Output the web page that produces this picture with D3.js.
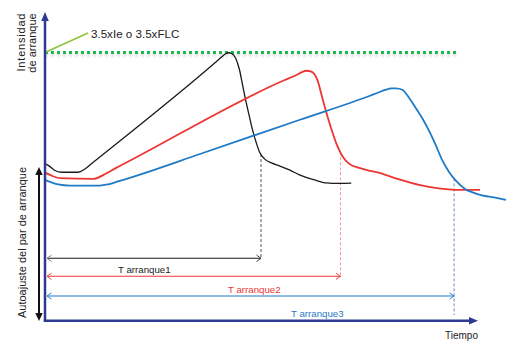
<!DOCTYPE html>
<html><head><meta charset="utf-8">
<script src="https://cdn.jsdelivr.net/npm/d3@7"></script>
<style>
html,body{margin:0;padding:0;background:#fff;}
svg{display:block;font-family:"Liberation Sans",Arial,sans-serif;}
</style>
</head><body>
<svg id="chart" width="512" height="341"></svg>
<script>
// ---- data (time in % of axis, current in multiples of Ie) ----
const seriesNames = ["T arranque1", "T arranque2", "T arranque3"];
const thresholdLevel = 3.5;
const thresholdLabel = "3.5xIe o 3.5xFLC";
const yAxisLabel1 = ["Intensidad", "de arranque"];
const yAxisLabel2 = "Autoajuste del par de arranque";
const xAxisLabel = "Tiempo";
const startTimes = [50.0, 68.4, 94.7];

const blackTime = [0, 0.92, 2.08, 3.86, 7.69, 9.24, 10.88, 39.35, 40.88, 41.8, 42.49, 43.19, 44.11, 45.03, 45.73, 46.54, 47.34, 48.04, 48.85, 49.65, 50.81, 52.42, 54.27, 56.58, 58.89, 62.36, 65.13, 68.13, 70.9];
const blackCurrent = [2.047, 2.021, 1.968, 1.938, 1.938, 1.981, 2.055, 3.366, 3.441, 3.483, 3.497, 3.487, 3.428, 3.272, 3.076, 2.855, 2.659, 2.490, 2.333, 2.203, 2.112, 2.060, 2.021, 1.968, 1.903, 1.838, 1.799, 1.792, 1.795];

const redTime = [0, 1.15, 3.46, 11.15, 14.25, 16.56, 18.52, 55.5, 57.97, 59.35, 60.51, 61.66, 63.05, 64.2, 65.36, 66.51, 67.67, 68.82, 70.44, 72.75, 74.36, 77.37, 81.99, 86.61, 91.22, 94.69, 100.69];
const redCurrent = [1.933, 1.903, 1.860, 1.851, 1.925, 1.998, 2.055, 3.141, 3.200, 3.240, 3.262, 3.250, 3.142, 2.907, 2.672, 2.464, 2.281, 2.151, 2.047, 1.994, 1.968, 1.929, 1.845, 1.773, 1.727, 1.708, 1.708];

const blueTime = [0, 1.15, 3.0, 5.77, 12.7, 14.55, 16.86, 19.63, 21.99, 35.88, 59.03, 74.77, 76.91, 78.75, 80.14, 81.29, 82.68, 84.3, 85.68, 87.3, 88.91, 90.53, 91.92, 93.53, 95.15, 97.39, 99.31, 101.15, 103.93, 106.7];
const blueCurrent = [1.838, 1.812, 1.779, 1.764, 1.764, 1.779, 1.818, 1.864, 1.907, 2.176, 2.623, 2.926, 2.972, 3.011, 3.031, 3.033, 3.014, 2.907, 2.790, 2.646, 2.477, 2.281, 2.099, 1.942, 1.825, 1.714, 1.669, 1.636, 1.610, 1.577];

// ---- layout / style ----
const colors = ["#1a1a1a", "#ee3535", "#1f7bc5"];
const widths = [1.3, 1.8, 1.8];
const dashColors = ["#555555", "#f39a9a", "#7086c6"];
const arrowY = [258.3, 276.3, 296];
const labelPos = [[118, 273], [228, 292.5], [291, 316.5]];
const dashBottom = [258.3, 276.3, 315];
const axisColor = "#2e3a92";

const svg = d3.select("#chart");
const x = d3.scaleLinear().domain([0, 100]).range([45, 477]);
const y = d3.scaleLinear().domain([0, thresholdLevel]).range([320.8, 52.5]);
const yTop = y.invert(12);

const defs = svg.append("defs");
const f = defs.append("filter").attr("id", "sh").attr("filterUnits", "userSpaceOnUse")
  .attr("x", 0).attr("y", 40).attr("width", 512).attr("height", 30);
f.append("feDropShadow").attr("dx", 0).attr("dy", 2.4).attr("stdDeviation", 1).attr("flood-color", "#999").attr("flood-opacity", 0.4);

// threshold dotted line
svg.append("line")
  .attr("x1", x(0)).attr("x2", x(95.3))
  .attr("y1", y(thresholdLevel)).attr("y2", y(thresholdLevel))
  .attr("stroke", "#1fb84e").attr("stroke-width", 3).attr("stroke-dasharray", "3,3")
  .attr("filter", "url(#sh)");

// leader
svg.append("line").attr("x1", x(0)).attr("y1", y(thresholdLevel)).attr("x2", 88).attr("y2", 33)
  .attr("stroke", "#8dc63f").attr("stroke-width", 1.8);
svg.append("text").attr("x", 91).attr("y", 38).attr("font-size", 11.6).attr("fill", "#222").text(thresholdLabel);

const curves = [
  d3.zip(blackTime, blackCurrent),
  d3.zip(redTime, redCurrent),
  d3.zip(blueTime, blueCurrent)
];
const interp = (data, t) => {
  for (let i = 1; i < data.length; i++) {
    if (data[i][0] >= t) {
      const a = data[i-1], b = data[i];
      return a[1] + (b[1]-a[1]) * (t-a[0])/(b[0]-a[0]);
    }
  }
  return data[data.length-1][1];
};
// dashed verticals
startTimes.forEach((t, i) => {
  svg.append("line").attr("x1", x(t)).attr("x2", x(t))
    .attr("y1", y(interp(curves[i], t))).attr("y2", dashBottom[i])
    .attr("stroke", dashColors[i]).attr("stroke-width", 1).attr("stroke-dasharray", "3,2");
});

// curves
const line = d3.line().x(d => x(d[0])).y(d => y(d[1])).curve(d3.curveMonotoneX);
curves.forEach((c, i) => {
  svg.append("path").attr("d", line(c)).attr("fill", "none")
    .attr("stroke", colors[i]).attr("stroke-width", widths[i]).attr("stroke-linejoin", "round");
});

// T arrows
startTimes.forEach((t, i) => {
  const yy = arrowY[i], x0 = x(0) + 2, x1 = x(t);
  const g = svg.append("g").attr("stroke", colors[i]).attr("fill", "none");
  g.append("line").attr("x1", x0).attr("x2", x1).attr("y1", yy).attr("y2", yy).attr("stroke-width", 1.1);
  g.append("path").attr("d", `M${x0+4.5},${yy-3.2}L${x0},${yy}L${x0+4.5},${yy+3.2}`).attr("stroke-width", 0.9)
    .attr("stroke", i === 0 ? "#777" : colors[i]);
  g.append("path").attr("d", `M${x1-4.5},${yy-3.2}L${x1},${yy}L${x1-4.5},${yy+3.2}`).attr("stroke-width", 0.9)
    .attr("stroke", i === 0 ? "#333" : colors[i]);
  svg.append("text").attr("x", labelPos[i][0]).attr("y", labelPos[i][1]).attr("font-size", 9.7)
    .attr("fill", i === 0 ? "#222" : colors[i]).text(seriesNames[i]);
});

// left double arrow
const la = svg.append("g");
la.append("line").attr("x1", 39).attr("x2", 39).attr("y1", 172).attr("y2", 316).attr("stroke", "#111").attr("stroke-width", 2);
la.append("path").attr("d", "M39,167L35.3,175L42.7,175Z").attr("fill", "#111");
la.append("path").attr("d", "M39,321L35.3,313L42.7,313Z").attr("fill", "#111");

// axes
svg.append("line").attr("x1", x(0)).attr("x2", x(0)).attr("y1", y(0) + 1).attr("y2", y(yTop) + 6)
  .attr("stroke", axisColor).attr("stroke-width", 2.5);
svg.append("path").attr("d", `M${x(0)},${y(yTop)}L${x(0)-3.8},${y(yTop)+9}L${x(0)+3.8},${y(yTop)+9}Z`).attr("fill", axisColor);
svg.append("line").attr("x1", x(0) - 1.2).attr("x2", x(100) - 6).attr("y1", y(0)).attr("y2", y(0))
  .attr("stroke", axisColor).attr("stroke-width", 2.5);
svg.append("path").attr("d", `M${x(100)+1},${y(0)}L${x(100)-8},${y(0)-3.8}L${x(100)-8},${y(0)+3.8}Z`).attr("fill", axisColor);

// axis labels
svg.append("text").attr("transform", "translate(25,42.5) rotate(-90)").attr("text-anchor", "middle")
  .attr("font-size", 11).attr("fill", "#222").attr("textLength", 58).attr("lengthAdjust", "spacing").text(yAxisLabel1[0]);
svg.append("text").attr("transform", "translate(35.5,43) rotate(-90)").attr("text-anchor", "middle")
  .attr("font-size", 11).attr("fill", "#222").text(yAxisLabel1[1]);
svg.append("text").attr("transform", "translate(25.5,242.5) rotate(-90)").attr("text-anchor", "middle")
  .attr("font-size", 11).attr("fill", "#222").text(yAxisLabel2);
svg.append("text").attr("x", 445).attr("y", 339).attr("font-size", 10).attr("fill", "#222").text(xAxisLabel);
</script>
</body></html>
